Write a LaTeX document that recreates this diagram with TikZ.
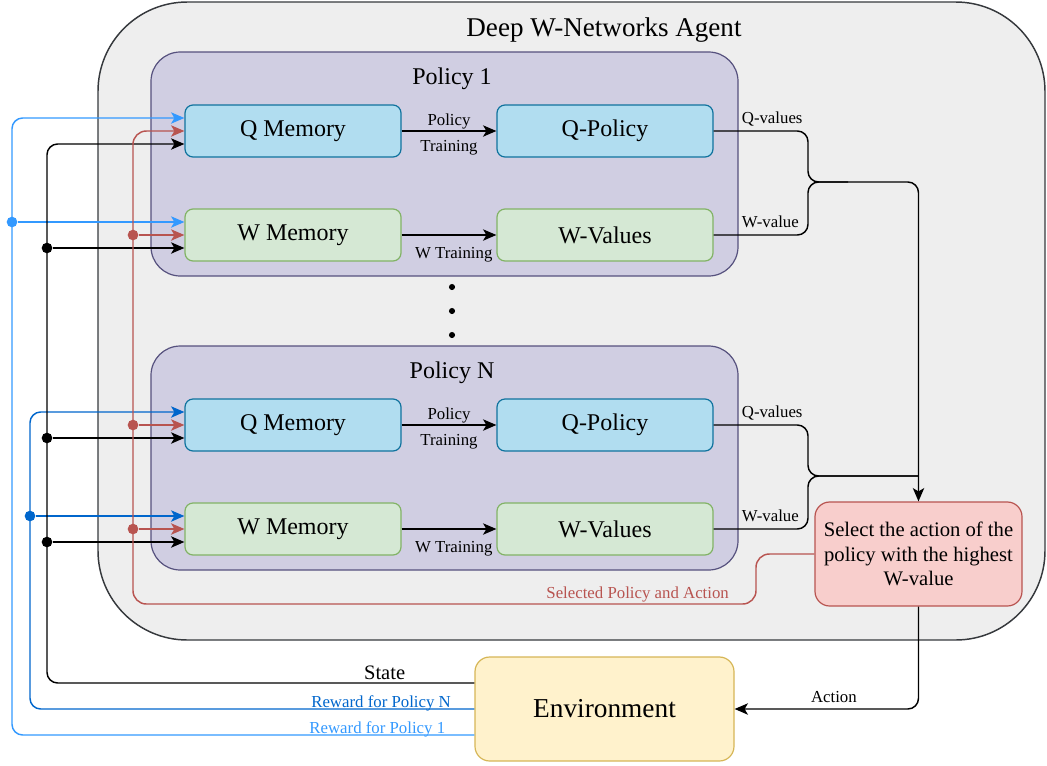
\documentclass[tikz,border=0pt]{standalone}
\usepackage{fontspec}
\setmainfont{Liberation Serif}
\usetikzlibrary{arrows.meta,calc}

\definecolor{agentfill}{HTML}{EEEEEE}
\definecolor{agentline}{HTML}{36393D}
\definecolor{pfill}{HTML}{D0CEE2}
\definecolor{pline}{HTML}{56517E}
\definecolor{qfill}{HTML}{B1DDF0}
\definecolor{qline}{HTML}{10739E}
\definecolor{wfill}{HTML}{D5E8D4}
\definecolor{wline}{HTML}{82B366}
\definecolor{selfill}{HTML}{F8CECC}
\definecolor{selline}{HTML}{B85450}
\definecolor{envfill}{HTML}{FFF2CC}
\definecolor{envline}{HTML}{D6B656}
\definecolor{lblue}{HTML}{3399FF}
\definecolor{dblue}{HTML}{0066CC}

\begin{document}
\begin{tikzpicture}
	[
		x=0.75pt, y=-0.75pt,
		wire/.style={draw, line width=1.1pt, rounded corners=8pt},
		>={Stealth[length=10pt,width=8.5pt,inset=2.5pt]},
		lbl/.style={font=\fontsize{12.6}{14}\selectfont, inner sep=1pt},
		dot/.style={circle, fill, inner sep=0pt, minimum size=8pt}
	]
	\tikzstyle{Mem} = [rectangle, rounded corners=6pt, minimum width=162pt, minimum height=39pt, text centered, line width=0.9pt, font=\fontsize{18}{20}\selectfont]
	\tikzstyle{QBox} = [Mem, draw=qline, fill=qfill]
	\tikzstyle{WBox} = [Mem, draw=wline, fill=wfill]
	\tikzstyle{Policy} = [rectangle, rounded corners=22pt, minimum width=440.25pt, minimum height=168pt, draw=pline, fill=pfill, line width=0.9pt]
	\tikzstyle{Heading} = [font=\fontsize{18}{20}\selectfont]

	\useasboundingbox (0,0) rectangle (1047,765);

	\node [rectangle, rounded corners=67pt, minimum width=710.25pt, minimum height=478.5pt, draw=agentline, fill=agentfill, line width=1.1pt] (agent) at (571.5,321) {};
	\node [font=\fontsize{20.3}{23}\selectfont] (title) at (604,30) {Deep W-Networks Agent};

	\node [Policy] (p1) at (444.5,164) {};
	\node [Heading] (p1title) at (452,79) {Policy 1};
	\node [QBox] (qm1) at (293,131) {Q Memory};
	\node [QBox] (qp1) at (605,131) {Q-Policy};
	\node [WBox] (wm1) at (293,235) {W Memory};
	\node [WBox] (wv1) at (605,235) {W-Values};

	\foreach \y in {287,311,335}
		\fill (452,\y) circle (2.3pt);

	\node [Policy] (pN) at (444.5,458) {};
	\node [Heading] (pNtitle) at (452,373) {Policy N};
	\node [QBox] (qmN) at (293,425) {Q Memory};
	\node [QBox] (qpN) at (605,425) {Q-Policy};
	\node [WBox] (wmN) at (293,529) {W Memory};
	\node [WBox] (wvN) at (605,529) {W-Values};

	\node [rectangle, rounded corners=11pt, minimum width=155.25pt, minimum height=78pt, draw=selline, fill=selfill, line width=0.9pt, align=center, font=\fontsize{15.5}{18.4}\selectfont] (sel) at (918.5,554) {Select the action of the\\policy with the highest\\W-value};
	\node [rectangle, rounded corners=11pt, minimum width=194.25pt, minimum height=78pt, draw=envline, fill=envfill, line width=0.9pt, font=\fontsize{20.5}{24}\selectfont] (env) at (604.5,709) {Environment};

	\draw [wire,->] (qm1) -- node [lbl, above=0pt] {Policy} node [lbl, below=5.5pt] {Training} (qp1);
	\draw [wire,->] (wm1) -- node [lbl, below=7.5pt, pos=0.55] {W Training} (wv1);
	\draw [wire,->] (qmN) -- node [lbl, above=0pt] {Policy} node [lbl, below=5.5pt] {Training} (qpN);
	\draw [wire,->] (wmN) -- node [lbl, below=7.5pt, pos=0.55] {W Training} (wvN);

	\coordinate (m1) at (808,182);
	\coordinate (mN) at (808,476);
	\coordinate (jN) at (918,476);
	\draw [wire,->] (qp1.east) -| (m1) -| (sel.north);
	\draw [wire] (wv1.east) -| (m1) -- ++(40,0);
	\draw [wire] (qpN.east) -| (mN) -- (jN);
	\draw [wire] (wvN.east) -| (mN) -- (jN);
	\node [lbl, anchor=west] at ([xshift=20pt,yshift=9pt]qp1.east) {Q-values};
	\node [lbl, anchor=west] at ([xshift=20pt,yshift=10pt]wv1.east) {W-value};
	\node [lbl, anchor=west] at ([xshift=20pt,yshift=9pt]qpN.east) {Q-values};
	\node [lbl, anchor=west] at ([xshift=20pt,yshift=10pt]wvN.east) {W-value};

	\draw [wire,->] (sel.south) |- node [lbl, above=3.5pt, pos=0.73] {Action} (env.east);

	\coordinate (busB1) at (12,0);
	\coordinate (busBN) at (30,0);
	\coordinate (busS) at (47,0);
	\coordinate (busR) at (133,0);
	\coordinate (rt) at (756,604);

	\coordinate (q1b) at ([yshift=9.75pt]qm1.west);
	\coordinate (q1k) at ([yshift=-9.75pt]qm1.west);
	\coordinate (w1b) at ([yshift=9.75pt]wm1.west);
	\coordinate (w1k) at ([yshift=-9.75pt]wm1.west);
	\coordinate (qNb) at ([yshift=9.75pt]qmN.west);
	\coordinate (qNk) at ([yshift=-9.75pt]qmN.west);
	\coordinate (wNb) at ([yshift=9.75pt]wmN.west);
	\coordinate (wNk) at ([yshift=-9.75pt]wmN.west);
	\coordinate (envS) at ([yshift=19.5pt]env.west);
	\coordinate (envB1) at ([yshift=-19.5pt]env.west);

	\draw [wire,lblue,->] (envB1) -- node [lbl, above=-3.5pt, pos=0.21] {Reward for Policy 1} (busB1 |- envB1) -- (busB1 |- q1b) -- (q1b);
	\node [dot, lblue] (d1) at (busB1 |- w1b) {};
	\draw [wire,lblue,->] (d1) -- (w1b);

	\draw [wire,dblue,->] (env.west) -- node [lbl, above=-3.5pt, pos=0.21] {Reward for Policy N} (busBN |- env.west) -- (busBN |- qNb) -- (qNb);
	\node [dot, dblue] (d2) at (busBN |- wNb) {};
	\draw [wire,dblue,->] (d2) -- (wNb);

	\draw [wire,->] (envS) -- node [above=1pt, inner sep=1pt, pos=0.21, font=\fontsize{15.4}{18}\selectfont] {State} (busS |- envS) -- (busS |- q1k) -- (q1k);
	\node [dot] (d3) at (busS |- w1k) {};
	\node [dot] (d4) at (busS |- qNk) {};
	\node [dot] (d5) at (busS |- wNk) {};
	\draw [wire,->] (d3) -- (w1k);
	\draw [wire,->] (d4) -- (qNk);
	\draw [wire,->] (d5) -- (wNk);

	\draw [wire,selline,rounded corners=10pt,->] (sel.west) -| (rt) -- node [lbl, above=0pt, pos=0.19] {Selected Policy and Action} (busR |- rt) -- (busR |- qm1.west) -- (qm1.west);
	\node [dot, selline] (d6) at (busR |- wm1.west) {};
	\node [dot, selline] (d7) at (busR |- qmN.west) {};
	\node [dot, selline] (d8) at (busR |- wmN.west) {};
	\draw [wire,selline,->] (d6) -- (wm1.west);
	\draw [wire,selline,->] (d7) -- (qmN.west);
	\draw [wire,selline,->] (d8) -- (wmN.west);
\end{tikzpicture}
\end{document}
